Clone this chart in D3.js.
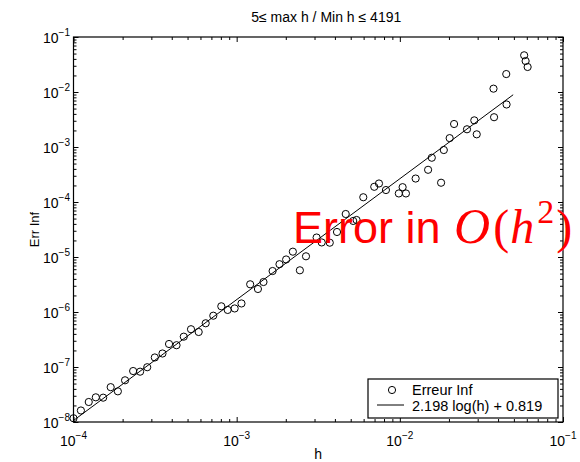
<!DOCTYPE html>
<html>
<head>
<meta charset="utf-8">
<script src="https://cdn.jsdelivr.net/npm/d3@7"></script>
<style>
  body { margin: 0; background: #fff; }
  svg { display: block; font-family: "Liberation Sans", Arial, sans-serif; }
</style>
</head>
<body>
<svg id="chart" width="580" height="462"></svg>
<script>
// step size h and the infinity-norm error
const hValues = [
  1.00e-4, 1.11e-4, 1.24e-4, 1.37e-4, 1.52e-4, 1.69e-4, 1.87e-4, 2.07e-4,
  2.32e-4, 2.56e-4, 2.83e-4, 3.15e-4, 3.51e-4, 3.85e-4, 4.28e-4, 4.74e-4,
  5.25e-4, 5.85e-4, 6.46e-4, 7.19e-4, 8.05e-4, 8.81e-4, 9.72e-4, 1.07e-3,
  1.21e-3, 1.35e-3, 1.46e-3, 1.66e-3, 1.83e-3, 2.01e-3, 2.21e-3, 2.44e-3,
  2.66e-3, 3.09e-3, 3.32e-3, 3.72e-3, 4.12e-3, 4.66e-3, 5.18e-3, 5.43e-3,
  5.97e-3, 6.97e-3, 7.45e-3, 8.22e-3, 9.86e-3, 1.04e-2, 1.09e-2, 1.25e-2,
  1.49e-2, 1.57e-2, 1.79e-2, 1.86e-2, 2.02e-2, 2.15e-2, 2.58e-2, 2.86e-2,
  2.96e-2, 3.78e-2, 3.75e-2, 4.51e-2, 4.49e-2, 5.78e-2, 5.90e-2, 6.07e-2
];
const errValues = [
  1.17e-8, 1.62e-8, 2.31e-8, 2.81e-8, 2.77e-8, 4.30e-8, 3.61e-8, 5.73e-8,
  8.45e-8, 8.22e-8, 9.91e-8, 1.49e-7, 1.76e-7, 2.62e-7, 2.49e-7, 3.56e-7,
  4.86e-7, 4.33e-7, 6.24e-7, 8.57e-7, 1.27e-6, 1.09e-6, 1.16e-6, 1.43e-6,
  3.19e-6, 2.62e-6, 3.51e-6, 5.56e-6, 7.40e-6, 9.02e-6, 1.25e-5, 5.73e-6,
  1.03e-5, 2.26e-5, 1.84e-5, 1.82e-5, 2.85e-5, 6.05e-5, 4.52e-5, 4.71e-5,
  1.22e-4, 1.89e-4, 2.17e-4, 1.65e-4, 1.43e-4, 1.86e-4, 1.43e-4, 2.67e-4,
  3.85e-4, 6.38e-4, 2.24e-4, 8.81e-4, 1.45e-3, 2.62e-3, 2.10e-3, 3.05e-3,
  1.70e-3, 3.48e-3, 1.15e-2, 5.93e-3, 2.12e-2, 4.65e-2, 3.66e-2, 2.85e-2
];

// least squares fit: log10(err) = slope * log10(h) + intercept
const fitSlope = 2.198;
const fitIntercept = 0.819;
const fitRange = [1e-4, 0.0495];

const xTicks = [1e-4, 1e-3, 1e-2, 1e-1];
const yTicks = [1e-8, 1e-7, 1e-6, 1e-5, 1e-4, 1e-3, 1e-2, 1e-1];

const titleText = "5\u2264 max h / Min h \u2264 4191";
const legendLabels = ["Erreur Inf", "2.198 log(h) + 0.819"];

const plotL = 73.5, plotR = 563, plotT = 37, plotB = 422;

const svg = d3.select("#chart");

const x = d3.scaleLog().domain([1e-4, 1e-1]).range([plotL, plotR]);
const y = d3.scaleLog().domain([1e-8, 1e-1]).range([plotB, plotT]);

// minor ticks 2..9 in each decade
function minorTicks(scale) {
  const out = [];
  const [a, b] = scale.domain();
  for (let e = Math.round(Math.log10(a)); e < Math.round(Math.log10(b)); e++) {
    for (let k = 2; k <= 9; k++) out.push(k * Math.pow(10, e));
  }
  return out;
}

function drawAxis(axisFn, scale, transform, values, size) {
  const g = svg.append("g").attr("transform", transform)
    .call(axisFn(scale).tickValues(values).tickSize(size).tickFormat(""));
  g.select(".domain").remove();
  g.selectAll("line").attr("stroke", "#000").attr("stroke-width", 1);
}

[[d3.axisBottom, x, `translate(0,${plotB})`, xTicks, minorTicks(x)],
 [d3.axisTop, x, `translate(0,${plotT})`, xTicks, minorTicks(x)],
 [d3.axisLeft, y, `translate(${plotL},0)`, yTicks, minorTicks(y)],
 [d3.axisRight, y, `translate(${plotR},0)`, yTicks, minorTicks(y)]
].forEach(([fn, sc, tr, major, minor]) => {
  drawAxis(fn, sc, tr, major, -5);
  drawAxis(fn, sc, tr, minor, -3);
});

// box
svg.append("rect")
  .attr("x", plotL).attr("y", plotT)
  .attr("width", plotR - plotL).attr("height", plotB - plotT)
  .attr("fill", "none").attr("stroke", "#000").attr("stroke-width", 1.2);

// tick labels 10^n
function powerLabel(sel, v) {
  const e = Math.round(Math.log10(v));
  sel.append("tspan").text("10").attr("font-size", 14);
  sel.append("tspan").text("\u2212" + Math.abs(e)).attr("font-size", 10).attr("dy", -7);
}

svg.append("g").selectAll("text").data(xTicks).enter().append("text")
  .attr("x", d => x(d)).attr("y", 446)
  .attr("text-anchor", "middle")
  .each(function(d) { powerLabel(d3.select(this), d); });

svg.append("g").selectAll("text").data(yTicks).enter().append("text")
  .attr("x", 70).attr("y", d => y(d) + 6)
  .attr("text-anchor", "end")
  .each(function(d) { powerLabel(d3.select(this), d); });

// titles
svg.append("text").attr("x", (plotL + plotR) / 2 + 8).attr("y", 22)
  .attr("text-anchor", "middle").attr("font-size", 14).text(titleText);
svg.append("text").attr("x", (plotL + plotR) / 2).attr("y", 459)
  .attr("text-anchor", "middle").attr("font-size", 14).text("h");
svg.append("text").attr("transform", `translate(39,${(plotT + plotB) / 2}) rotate(-90)`)
  .attr("text-anchor", "middle").attr("font-size", 13).text("Err Inf");

// fit line
const fitLine = fitRange.map(h => [h, Math.pow(10, fitSlope * Math.log10(h) + fitIntercept)]);
svg.append("path")
  .attr("d", d3.line().x(d => x(d[0])).y(d => y(d[1]))(fitLine))
  .attr("stroke", "#000").attr("stroke-width", 1).attr("fill", "none");

// data points
svg.append("g").selectAll("circle").data(hValues).enter().append("circle")
  .attr("cx", d => x(d))
  .attr("cy", (d, i) => y(errValues[i]))
  .attr("r", 3.6)
  .attr("fill", "none").attr("stroke", "#000").attr("stroke-width", 1);

// legend
const lg = svg.append("g");
lg.append("rect").attr("x", 368).attr("y", 379).attr("width", 190).attr("height", 39)
  .attr("fill", "#fff").attr("stroke", "#000").attr("stroke-width", 1.2);
lg.append("circle").attr("cx", 392).attr("cy", 390).attr("r", 3.6)
  .attr("fill", "none").attr("stroke", "#000");
lg.append("line").attr("x1", 377).attr("x2", 404).attr("y1", 405).attr("y2", 405)
  .attr("stroke", "#000");
lg.selectAll("text.lbl").data(legendLabels).enter().append("text")
  .attr("x", 412).attr("y", (d, i) => 395 + i * 16)
  .attr("font-size", 14.5).text(d => d);

// red annotation
const serif = "'Liberation Serif', serif";
const note = svg.append("text").attr("x", 293).attr("y", 243)
  .attr("fill", "#ff0000").attr("font-size", 45);
note.append("tspan").text("Error in ");
note.append("tspan").text("O").attr("font-family", serif).attr("font-style", "italic")
  .attr("font-size", 50).attr("dx", 1);
note.append("tspan").text("(").attr("font-family", serif).attr("font-size", 48).attr("dx", 3);
note.append("tspan").text("h").attr("font-family", serif).attr("font-style", "italic")
  .attr("font-size", 48).attr("dx", 1);
note.append("tspan").text("2").attr("font-family", serif).attr("font-size", 34)
  .attr("dy", -20).attr("dx", 3);
note.append("tspan").text(")").attr("font-family", serif).attr("font-size", 48)
  .attr("dy", 20).attr("dx", 2);
</script>
</body>
</html>
